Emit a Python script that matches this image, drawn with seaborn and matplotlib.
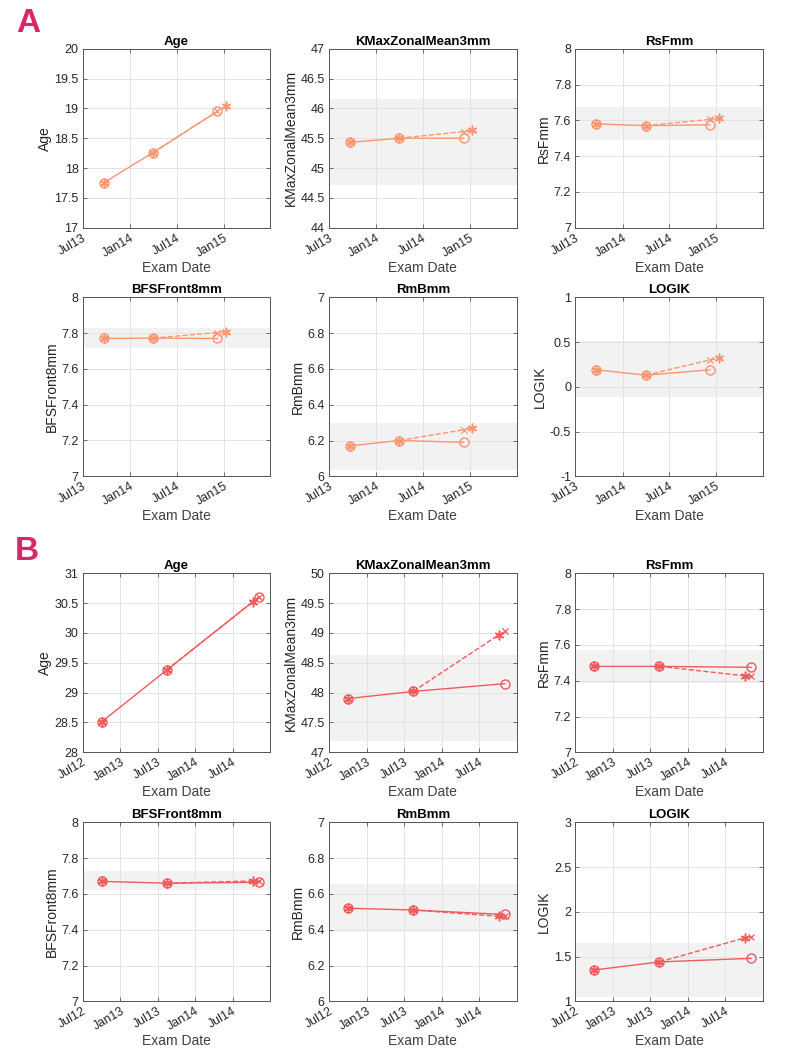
import numpy as np
import pandas as pd
import matplotlib
matplotlib.use('Agg')
import matplotlib.pyplot as plt
import matplotlib.dates as mdates
from matplotlib.ticker import FuncFormatter, MultipleLocator
import seaborn as sns

sns.set_style("ticks")
plt.rcParams['font.family'] = ['Liberation Sans', 'DejaVu Sans']

# ---- data ----
metrics = ['Age', 'KMaxZonalMean3mm', 'RsFmm', 'BFSFront8mm', 'RmBmm', 'LOGIK']

# patient A
a_dates = ['2013-09-20', '2014-04-01', '2014-12-07']
a_star_date = '2015-01-10'
a_measured = [[17.75, 18.26, 18.95],
              [45.43, 45.50, 45.50],
              [7.58, 7.57, 7.575],
              [7.77, 7.772, 7.77],
              [6.17, 6.20, 6.19],
              [0.19, 0.13, 0.19]]
a_pred_x = [18.95, 45.61, 7.605, 7.803, 6.26, 0.30]
a_pred_star = [19.04, 45.63, 7.612, 7.808, 6.27, 0.32]
a_band = [None, (44.72, 46.15), (7.489, 7.675), (7.717, 7.828), (6.034, 6.30), (-0.109, 0.513)]
a_ylim = [(17, 20), (44, 47), (7, 8), (7, 8), (6, 7), (-1, 1)]
a_ystep = [0.5, 0.5, 0.2, 0.2, 0.2, 0.5]
a_xlim = ('2013-07-01', '2015-07-01')
a_xticks = ['2013-07-01', '2014-01-01', '2014-07-01', '2015-01-01']

# patient B
b_dates = ['2012-10-01', '2013-08-15', '2014-11-05']
b_star_date = '2014-10-07'
b_measured = [[28.51, 29.38, 30.60],
              [47.90, 48.02, 48.15],
              [7.48, 7.48, 7.475],
              [7.67, 7.66, 7.665],
              [6.52, 6.51, 6.485],
              [1.35, 1.44, 1.48]]
b_pred_x = [30.60, 49.03, 7.425, 7.67, 6.475, 1.72]
b_pred_star = [30.52, 48.97, 7.427, 7.672, 6.475, 1.71]
b_band = [None, (47.19, 48.63), (7.387, 7.574), (7.619, 7.729), (6.385, 6.658), (1.045, 1.655)]
b_ylim = [(28, 31), (47, 50), (7, 8), (7, 8), (6, 7), (1, 3)]
b_ystep = [0.5, 0.5, 0.2, 0.2, 0.2, 0.5]
b_xlim = ('2012-07-01', '2015-01-01')
b_xticks = ['2012-07-01', '2013-01-01', '2013-07-01', '2014-01-01', '2014-07-01']

a_color = '#FA9670'
b_color = '#F05A5A'

W, H = 789, 1054
fig = plt.figure(figsize=(W / 100, H / 100), dpi=100)

col_left = [82.7, 329.0, 575.3]
ax_w, ax_h = 187.6, 179.0
row_top = [48.7, 297.3, 573.3, 822.3]


def draw_panel(ax, title, dates, star_date, meas, px, ps, band, ylim, ystep, xlim, xticks, color):
    d = pd.to_datetime(dates)
    ds = pd.to_datetime(star_date)
    if band is not None:
        ax.axhspan(band[0], band[1], color='#F2F2F2', zorder=0.2, lw=0)
    # predicted track: dashed from second exam through the predicted points
    pr = pd.DataFrame({'date': [d[1], d[2], ds], 'val': [meas[1], px, ps]}).sort_values('date')
    sns.lineplot(data=pr, x='date', y='val', ax=ax, color=color, lw=1.0,
                 linestyle='--', sort=False, zorder=2)
    # measured track
    ms = pd.DataFrame({'date': d, 'val': meas})
    sns.lineplot(data=ms, x='date', y='val', ax=ax, color=color, lw=1.0,
                 marker='o', markersize=6.5, markerfacecolor='none',
                 markeredgecolor=color, markeredgewidth=1.0, zorder=3)
    # asterisks at first exams and prediction
    st = pd.DataFrame({'date': [d[0], d[1], ds], 'val': [meas[0], meas[1], ps]})
    sns.scatterplot(data=st, x='date', y='val', ax=ax, color=color, marker=(6, 2, 0),
                    s=38, linewidth=1.1, edgecolor=color, zorder=4)
    xs = pd.DataFrame({'date': [d[2]], 'val': [px]})
    sns.scatterplot(data=xs, x='date', y='val', ax=ax, color=color, marker='x',
                    s=20, linewidth=0.9, zorder=4)

    ax.set_xlim(pd.to_datetime(xlim[0]), pd.to_datetime(xlim[1]))
    ax.set_xticks(pd.to_datetime(xticks))
    ax.xaxis.set_major_formatter(mdates.DateFormatter('%b%y'))
    ax.set_ylim(*ylim)
    ax.yaxis.set_major_locator(MultipleLocator(ystep))
    ax.yaxis.set_major_formatter(FuncFormatter(lambda v, p: '%g' % round(v, 6)))
    ax.grid(True, color='#E3E3E3', lw=0.7)
    ax.set_axisbelow(True)
    for s in ax.spines.values():
        s.set_visible(True)
        s.set_color('#555555')
        s.set_linewidth(0.7)
    ax.tick_params(direction='in', length=3, width=0.6, color='#555555',
                   top=True, right=True, labelsize=9, labelcolor='#262626', pad=3)
    for lab in ax.get_xticklabels():
        lab.set_rotation(30)
        lab.set_ha('right')
        lab.set_rotation_mode('anchor')
    ax.set_title(title, fontsize=9.5, fontweight='bold', pad=3, color='black')
    ax.set_xlabel('Exam Date', fontsize=10, color='#404040', labelpad=1)
    ax.set_ylabel(title, fontsize=10, color='#262626', labelpad=2)


panels = [
    (0, a_dates, a_star_date, a_measured, a_pred_x, a_pred_star, a_band, a_ylim, a_ystep, a_xlim, a_xticks, a_color),
    (2, b_dates, b_star_date, b_measured, b_pred_x, b_pred_star, b_band, b_ylim, b_ystep, b_xlim, b_xticks, b_color),
]

for row0, dates, sd, meas, px, ps, band, ylim, ystep, xlim, xticks, color in panels:
    for i, name in enumerate(metrics):
        r = row0 + i // 3
        c = i % 3
        left = col_left[c] / W
        bottom = 1 - (row_top[r] + ax_h) / H
        ax = fig.add_axes([left, bottom, ax_w / W, ax_h / H])
        draw_panel(ax, name, dates, sd, meas[i], px[i], ps[i], band[i], ylim[i], ystep[i],
                   xlim, xticks, color)

fig.text(28 / W, 1 - 24 / H, 'A', fontsize=24, fontweight='bold', color='#D62866',
         ha='center', va='center')
fig.text(27 / W, 1 - 551 / H, 'B', fontsize=24, fontweight='bold', color='#D62866',
         ha='center', va='center')

fig.savefig('out.png', dpi=100)
